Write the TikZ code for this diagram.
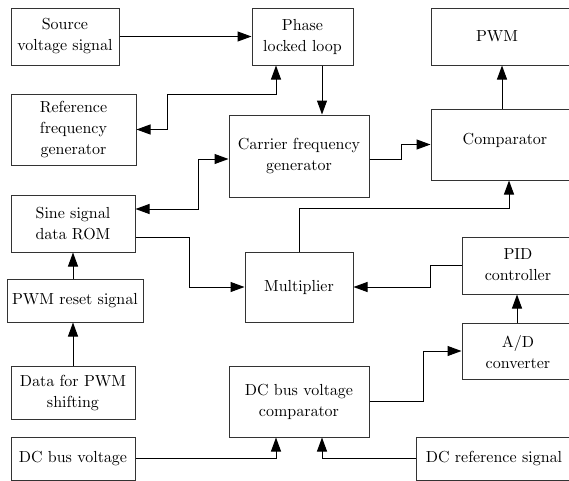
\documentclass[tikz,border=0pt]{standalone}
\usetikzlibrary{arrows.meta}
\font\diagfont=cmr10 at 16pt
\begin{document}
\begin{tikzpicture}[x=1pt,y=-1pt,
  box/.style={draw=black!80, line width=1pt, rectangle, inner sep=0pt, align=center,
    font={\fontsize{16}{21}\selectfont\diagfont}},
  lbl/.style={inner sep=0pt, align=center, font={\fontsize{16}{21}\selectfont\diagfont}},
  arr/.style={line width=1pt, -{Triangle[length=14pt,width=10pt]}},
  biarr/.style={line width=1pt, {Triangle[length=14pt,width=10pt]}-{Triangle[length=14pt,width=10pt]}}]
\useasboundingbox (0,0) rectangle (569,480);
\clip (0,0) rectangle (569,480);
% boxes
\node[box, minimum width=108pt, minimum height=57pt] (src) at (65,36.5) {Source\\voltage signal};
\node[box, minimum width=101pt, minimum height=57pt] (pll) at (302.5,36.5) {Phase\\locked loop};
\node[box, minimum width=149pt, minimum height=57pt] (pwm) at (505.5,36.5) {};
\node[lbl] (pwmt) at (497,36) {PWM};
\node[box, minimum width=125pt, minimum height=71pt] (ref) at (73.5,129.5) {Reference\\frequency\\generator};
\node[box, minimum width=140pt, minimum height=82pt] (car) at (299,156) {Carrier frequency\\generator};
\node[box, minimum width=149pt, minimum height=71pt] (cmp) at (505.5,144.5) {};
\node[lbl] (cmpt) at (505,141) {Comparator};
\node[box, minimum width=124pt, minimum height=57pt] (rom) at (73,223.5) {Sine signal\\data ROM};
\node[box, minimum width=136pt, minimum height=43pt] (rst) at (75,300.5) {PWM reset signal};
\node[box, minimum width=108pt, minimum height=70pt] (mul) at (299,287) {Multiplier};
\node[box, minimum width=118pt, minimum height=57pt] (pid) at (521,265.5) {};
\node[lbl] (pidt) at (518,265) {PID\\controller};
\node[box, minimum width=118pt, minimum height=56pt] (ad) at (521,351) {};
\node[lbl] (adt) at (518,352) {A/D\\converter};
\node[box, minimum width=124pt, minimum height=53pt] (dat) at (73,392.5) {Data for PWM\\shifting};
\node[box, minimum width=140pt, minimum height=71pt] (dcc) at (299,401.5) {DC bus voltage\\comparator};
\node[box, minimum width=124pt, minimum height=43pt] (dcv) at (73,458.5) {DC bus voltage};
\node[box, minimum width=156pt, minimum height=43pt] (dcr) at (494,458.5) {DC reference signal};
% connectors
\draw[arr] (src.east) -- (pll.west);
\draw[biarr] (ref.east) -- ++(31,0) -- ++(0,-35.5) -| ([xshift=-26.5pt]pll.south);
\draw[arr] ([xshift=19.5pt]pll.south) -- ([xshift=19.5pt]pll.south |- car.north);
\draw[biarr] ([yshift=14.5pt]rom.east) -- ++(63,0) |- ([yshift=-3pt]car.west);
\draw[arr] ([yshift=-3pt]car.east) -- ++(32,0) |- (cmp.west);
\draw[arr] ([xshift=-3.5pt]cmp.north) -- ([xshift=-3.5pt]pwm.south);
\draw[arr] (mul.north) -- ++(0,-43) -| ([xshift=3.5pt]cmp.south);
\draw[arr] ([yshift=-13.5pt]rom.east) -- ++(54,0) |- (mul.west);
\draw[arr] (rom.south |- rst.north) -- (rom.south);
\draw[arr] (dat.north) -- (dat.north |- rst.south);
\draw[arr] (dcv.east) -| ([xshift=-23pt]dcc.south);
\draw[arr] (dcr.west) -| ([xshift=23pt]dcc.south);
\draw[arr] (dcc.east) -- ++(54,0) |- (ad.west);
\draw[arr] ([xshift=-4pt]ad.north) -- ([xshift=-4pt]pid.south);
\draw[arr] (pid.west) -- ++(-31,0) |- (mul.east);
\end{tikzpicture}
\end{document}
